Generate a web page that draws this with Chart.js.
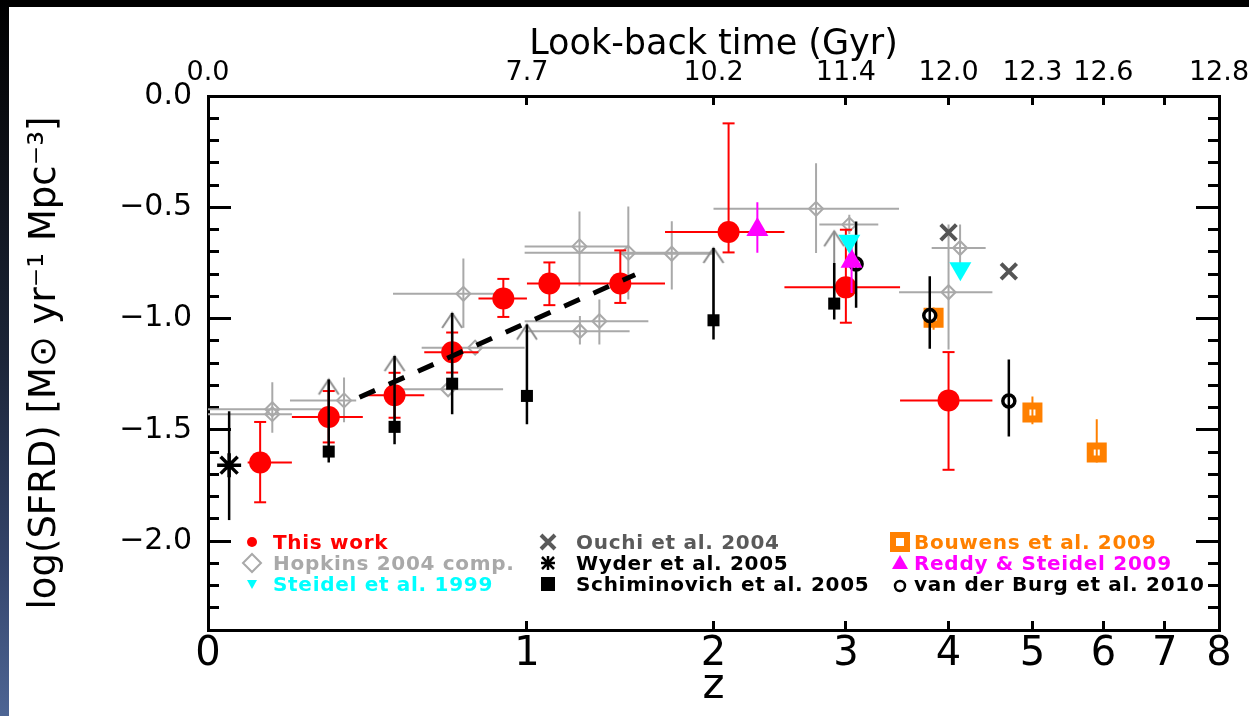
<!DOCTYPE html>
<html><head><meta charset="utf-8">
<script src="https://cdn.jsdelivr.net/npm/chart.js@4.4.1/dist/chart.umd.min.js"></script>
<style>
html,body{margin:0;padding:0;background:#000;width:1249px;height:716px;overflow:hidden;}
#strip{position:absolute;left:0;top:0;width:9px;height:716px;background:linear-gradient(to bottom,#000 0%,#0d1017 22%,#1c2538 50%,#33446a 78%,#4d6594 100%);}
#wrap{position:absolute;left:9px;top:7px;width:1240px;height:709px;background:#fff;}
canvas{display:block;}
</style></head><body>
<div id="strip"></div>
<div id="wrap"><canvas id="c" width="1240" height="709"></canvas></div>
<script>
// ---------- axis definitions ----------
const zTicks = [0, 1, 2, 3, 4, 5, 6, 7, 8];
const zTickLabels = ['0', '1', '2', '3', '4', '5', '6', '7', '8'];
const lookbackLabels = ['0.0', '7.7', '10.2', '11.4', '12.0', '12.3', '12.6', '', '12.8'];
const yMajorTicks = [0, -0.5, -1.0, -1.5, -2.0];
const yTickLabels = ['0.0', '\u22120.5', '\u22121.0', '\u22121.5', '\u22122.0'];
const yMinorTicks = [-0.1, -0.2, -0.3, -0.4, -0.6, -0.7, -0.8, -0.9, -1.1, -1.2, -1.3, -1.4, -1.6, -1.7, -1.8, -1.9, -2.1, -2.2, -2.3];

// ---------- data ----------
// This work
const twZ   = [0.12, 0.3, 0.5, 0.7, 0.9, 1.1, 1.45, 2.1, 3.0, 4.0];
const twY   = [-1.647, -1.443, -1.345, -1.152, -0.910, -0.843, -0.843, -0.611, -0.860, -1.368];
const twYhi = [-1.465, -1.326, -1.244, -1.063, -0.822, -0.748, -0.694, -0.123, -0.601, -1.151];
const twYlo = [-1.826, -1.557, -1.446, -1.243, -0.993, -0.940, -0.930, -0.703, -1.019, -1.680];
const twZlo = [0.09, 0.2, 0.4, 0.6, 0.8, 1.0, 1.2, 1.7, 2.5, 3.5];
const twZhi = [0.2, 0.4, 0.6, 0.8, 1.0, 1.2, 1.7, 2.5, 3.5, 4.5];

// Hopkins 2004 compilation
const hoZ   = [0.15, 0.15, 0.344, 0.685, 0.742, 0.787, 1.242, 1.493, 1.74, 1.244, 1.341, 2.749, 3.03, 4.127, 4.0];
const hoY   = [-1.408, -1.43, -1.368, -1.318, -0.889, -1.131, -0.676, -0.705, -0.709, -1.057, -1.012, -0.507, -0.578, -0.683, -0.882];
const hoYhi = [-1.287, null, -1.265, null, -0.730, null, -0.519, -0.497, -0.563, -0.989, -0.915, -0.302, -0.534, -0.578, -0.578];
const hoYlo = [-1.514, null, -1.466, null, -1.042, null, -0.855, -0.915, -0.870, -1.117, -1.117, -0.706, -0.620, -0.770, -1.139];
const hoZlo = [0.0, 0.0, 0.195, 0.507, 0.495, 0.591, 0.99, 0.99, 1.45, 0.99, 0.99, 2.0, 2.776, 3.82, 3.49];
const hoZhi = [0.28, 0.2, 0.38, 0.899, 0.899, 0.99, 1.493, 2.0, 2.0, 1.5, 1.604, 3.49, 3.292, 4.42, 4.5];

// Hopkins lower limits (arrows)
const limZ   = [0.3, 0.5, 0.7, 1.0, 2.0, 2.9];
const limY   = [-1.598, -1.487, -1.293, -1.348, -1.008, -0.933];
const limTip = [-1.274, -1.169, -0.975, -1.027, -0.683, -0.608];

// Schiminovich et al. 2005
const scZ   = [0.3, 0.5, 0.7, 1.0, 2.0, 2.9];
const scY   = [-1.598, -1.487, -1.293, -1.348, -1.008, -0.933];
const scYhi = [-1.274, -1.169, -0.975, -1.027, -0.683, -0.750];
const scYlo = [-1.647, -1.565, -1.430, -1.475, -1.094, -1.004];

// Wyder et al. 2005
const wyZ = [0.047], wyY = [-1.659], wyYhi = [-1.417], wyYlo = [-1.906];

// Ouchi et al. 2004
const ouZ = [4.0, 4.7], ouY = [-0.613, -0.788];

// Steidel et al. 1999
const stZ = [3.03, 4.13], stY = [-0.652, -0.776];

// Reddy & Steidel 2009
const reZ = [2.3, 3.05], reY = [-0.601, -0.743], reYhi = [-0.478, -0.676], reYlo = [-0.705, -0.885];

// van der Burg et al. 2010
const vdZ = [3.09, 3.8, 4.7], vdY = [-0.755, -0.987, -1.371];
const vdYhi = [-0.564, -0.810, -1.184], vdYlo = [-0.952, -1.136, -1.530];

// Bouwens et al. 2009
const boZ = [3.84, 5.0, 5.9], boY = [-0.997, -1.423, -1.602];
const boYhi = [-0.95, -1.351, -1.453], boYlo = [-1.05, -1.475, -1.647];

// dashed fit
const fitZ = [0.39, 1.53], fitY = [-1.354, -0.803];

// legend
const legendLabels = ['This work', 'Hopkins 2004 comp.', 'Steidel et al. 1999',
  'Ouchi et al. 2004', 'Wyder et al. 2005', 'Schiminovich et al. 2005',
  'Bouwens et al. 2009', 'Reddy & Steidel 2009', 'van der Burg et al. 2010'];

// ---------- styling ----------
const F = "'DejaVu Sans', sans-serif";
const RED = '#ff0000', GREY = '#a9a9a9', CYAN = '#00ffff', DGREY = '#555555', ORANGE = '#ff8000', MAG = '#ff00ff';
const legendColors = [RED, GREY, CYAN, '#5a5a5a', '#000', '#000', ORANGE, MAG, '#000'];
const legendMarks = ['dot', 'diamond', 'tridown', 'xmark', 'star', 'square', 'bsq', 'triup', 'ring'];
const LEG = { markX: [243, 539, 891], textX: [264, 567, 905], baseY: [542, 563, 584] };

const X = z => Math.log10(1 + z);
function pts(z, y) { return z.map((zz, i) => ({ x: X(zz), y: y[i] })); }
function vSegs(z, lo, hi) {
  const d = [];
  z.forEach((zz, i) => {
    if (lo[i] == null || hi[i] == null) return;
    d.push({ x: X(zz), y: lo[i] }, { x: X(zz), y: hi[i] }, { x: X(zz), y: null });
  });
  return d;
}
function hSegs(zlo, zhi, y) {
  const d = [];
  y.forEach((yy, i) => {
    if (zlo[i] == null || zhi[i] == null) return;
    d.push({ x: X(zlo[i]), y: yy }, { x: X(zhi[i]), y: yy }, { x: X(zhi[i]), y: null });
  });
  return d;
}
function errSet(data, color, width, order, cap) {
  return {
    data, showLine: true, borderColor: color, borderWidth: width, spanGaps: false, order,
    borderCapStyle: 'butt', pointStyle: 'line', pointBorderColor: color, pointBorderWidth: width,
    pointBackgroundColor: color,
    pointRadius: cap ? (c => (c.raw && c.raw.y !== null) ? cap : 0) : 0,
    pointHoverRadius: 0
  };
}
function markSet(data, order, o) {
  return Object.assign({ data, showLine: false, order, pointHoverRadius: 0 }, o);
}
function chevron(color) {
  const c = document.createElement('canvas');
  c.width = 24; c.height = 34;
  const g = c.getContext('2d');
  g.strokeStyle = color; g.lineWidth = 2;
  g.beginPath(); g.moveTo(2, 32); g.lineTo(12, 17); g.lineTo(22, 32); g.stroke();
  return c;
}
const chev = chevron('#8c8c8c');

const datasets = [
  // Hopkins
  errSet(vSegs(hoZ, hoYlo, hoYhi), GREY, 2, 100, 0),
  errSet(hSegs(hoZlo, hoZhi, hoY), GREY, 2, 100, 0),
  markSet(pts(hoZ, hoY), 95, { pointStyle: 'rectRot', pointRadius: 7, pointBorderWidth: 2, pointBorderColor: GREY, pointBackgroundColor: 'rgba(0,0,0,0)' }),
  // lower-limit arrows
  errSet(vSegs(limZ, limY, limTip), '#8c8c8c', 2, 92, 0),
  markSet(pts(limZ, limTip), 91, { pointStyle: chev, pointRadius: 10 }),
  // This work
  errSet(hSegs(twZlo, twZhi, twY), RED, 2, 80, 0),
  errSet(vSegs(twZ, twYlo, twYhi), RED, 2, 80, 6),
  markSet(pts(twZ, twY), 75, { pointStyle: 'circle', pointRadius: 11, pointBorderWidth: 0, pointBackgroundColor: RED, pointBorderColor: RED }),
  // Schiminovich + Wyder
  errSet(vSegs(scZ, scYlo, scYhi), '#000', 2.5, 70, 0),
  errSet(vSegs(wyZ, wyYlo, wyYhi), '#000', 2.5, 70, 0),
  markSet(pts(scZ, scY), 65, { pointStyle: 'rect', pointRadius: 8.5, pointBorderWidth: 0, pointBackgroundColor: '#000', pointBorderColor: '#000' }),
  markSet(pts(wyZ, wyY), 64, { pointStyle: 'star', pointRadius: 12, pointBorderWidth: 3.5, pointBorderColor: '#000', pointBackgroundColor: '#000' }),
  // Bouwens
  markSet(pts(boZ, boY), 60, { pointStyle: 'rect', pointRadius: 9.2, pointBorderWidth: 7, pointBorderColor: ORANGE, pointBackgroundColor: '#fff' }),
  errSet(vSegs(boZ, boYlo, boYhi), ORANGE, 2, 58, 0),
  // van der Burg
  markSet(pts(vdZ, vdY), 55, { pointStyle: 'circle', pointRadius: 6, pointBorderWidth: 3.5, pointBorderColor: '#000', pointBackgroundColor: '#fff' }),
  errSet(vSegs(vdZ, vdYlo, vdYhi), '#000', 2.5, 53, 0),
  // Reddy & Steidel
  errSet(vSegs(reZ, reYlo, reYhi), MAG, 2, 50, 0),
  markSet(pts(reZ, reY), 48, { pointStyle: 'triangle', pointRadius: 12.7, pointBorderWidth: 0, pointBackgroundColor: MAG, pointBorderColor: MAG }),
  // Steidel
  markSet(pts(stZ, stY), 45, { pointStyle: 'triangle', pointRotation: 180, pointRadius: 12.7, pointBorderWidth: 0, pointBackgroundColor: CYAN, pointBorderColor: CYAN }),
  // Ouchi
  markSet(pts(ouZ, ouY), 44, { pointStyle: 'crossRot', pointRadius: 11, pointBorderWidth: 4, pointBorderColor: DGREY, pointBackgroundColor: DGREY }),
  // dashed fit
  { data: pts(fitZ, fitY), showLine: true, borderColor: '#000', borderWidth: 5, borderDash: [17, 15], borderCapStyle: 'butt', pointRadius: 0, pointHoverRadius: 0, order: 40 }
];

function drawMark(g, m, x, y, col) {
  g.save();
  g.fillStyle = col; g.strokeStyle = col; g.lineCap = 'butt';
  g.beginPath();
  if (m === 'dot') { g.arc(x, y, 5, 0, Math.PI * 2); g.fill(); }
  else if (m === 'diamond') { g.lineWidth = 2; g.moveTo(x, y - 9); g.lineTo(x + 9, y); g.lineTo(x, y + 9); g.lineTo(x - 9, y); g.closePath(); g.stroke(); }
  else if (m === 'tridown') { g.moveTo(x - 5, y - 4); g.lineTo(x + 5, y - 4); g.lineTo(x, y + 5); g.closePath(); g.fill(); }
  else if (m === 'triup') { g.moveTo(x - 8, y + 6); g.lineTo(x + 8, y + 6); g.lineTo(x, y - 8); g.closePath(); g.fill(); }
  else if (m === 'xmark') { g.lineWidth = 4; g.moveTo(x - 7, y - 7); g.lineTo(x + 7, y + 7); g.moveTo(x + 7, y - 7); g.lineTo(x - 7, y + 7); g.stroke(); }
  else if (m === 'star') { g.lineWidth = 2.5; g.moveTo(x - 6, y - 6); g.lineTo(x + 6, y + 6); g.moveTo(x + 6, y - 6); g.lineTo(x - 6, y + 6); g.moveTo(x, y - 7); g.lineTo(x, y + 7); g.moveTo(x - 7, y); g.lineTo(x + 7, y); g.stroke(); }
  else if (m === 'square') { g.fillRect(x - 7, y - 7, 14, 14); }
  else if (m === 'bsq') { g.fillRect(x - 10, y - 10, 20, 20); g.fillStyle = '#fff'; g.fillRect(x - 4, y - 4, 8, 8); }
  else if (m === 'ring') { g.lineWidth = 2.5; g.arc(x, y + 2, 5, 0, Math.PI * 2); g.stroke(); }
  g.restore();
}

const legendPlugin = {
  id: 'sfrdLegend',
  afterDraw(chart) {
    const g = chart.ctx;
    g.save();
    g.font = 'bold 20px ' + F;
    if ('letterSpacing' in g) g.letterSpacing = '0.7px';
    g.textAlign = 'left'; g.textBaseline = 'alphabetic';
    legendLabels.forEach((t, i) => {
      const col = Math.floor(i / 3), row = i % 3;
      const by = LEG.baseY[row];
      drawMark(g, legendMarks[i], LEG.markX[col], by - 7, legendColors[i]);
      g.fillStyle = legendColors[i];
      g.fillText(t, LEG.textX[col], by);
    });
    g.restore();
  }
};

const xMax = X(zTicks[zTicks.length - 1]);
const tickGrid = len => ({ display: true, drawOnChartArea: false, drawTicks: true, tickLength: len, tickWidth: 3, tickColor: '#000' });
const axisBorder = { display: true, width: 3, color: '#000' };
const fitH = h => s => { s.height = h; s.paddingLeft = 0; s.paddingRight = 0; };

new Chart(document.getElementById('c'), {
  type: 'scatter',
  data: { datasets },
  plugins: [legendPlugin],
  options: {
    responsive: false, maintainAspectRatio: false, animation: false, devicePixelRatio: 1, events: [],
    layout: { padding: 0 },
    plugins: { legend: { display: false }, tooltip: { enabled: false }, colors: { enabled: false } },
    scales: {
      x: {
        type: 'linear', position: 'bottom', min: 0, max: xMax, weight: 1,
        afterBuildTicks: s => { s.ticks = zTicks.map(z => ({ value: X(z) })); },
        afterFit: fitH(86),
        ticks: { autoSkip: false, maxRotation: 0, padding: 10, color: '#000', font: { family: F, size: 40 }, callback: (v, i) => zTickLabels[i] },
        grid: tickGrid(-9), border: axisBorder,
        title: { display: true, text: 'z', color: '#000', font: { family: F, size: 42 }, padding: { top: 0, bottom: 4 } }
      },
      x2: {
        type: 'linear', position: 'top', min: 0, max: xMax, weight: 1,
        afterBuildTicks: s => { s.ticks = zTicks.map(z => ({ value: X(z) })); },
        afterFit: fitH(89),
        ticks: { autoSkip: false, maxRotation: 0, padding: 16, color: '#000', font: { family: F, size: 27 }, callback: (v, i) => lookbackLabels[i] },
        grid: tickGrid(-9), border: axisBorder,
        title: { display: true, text: 'Look-back time (Gyr)', color: '#000', font: { family: F, size: 35 }, padding: { top: 17, bottom: 0 } }
      },
      y: {
        type: 'linear', position: 'left', min: -2.4, max: 0, weight: 1,
        afterBuildTicks: s => { s.ticks = yMajorTicks.map(v => ({ value: v })); },
        afterFit: s => { s.width = 199; },
        ticks: { autoSkip: false, padding: 39, color: '#000', font: { family: F, size: 30 }, callback: (v, i) => yTickLabels[i] },
        grid: tickGrid(-23), border: axisBorder,
        title: { display: true, text: 'log(SFRD) [M\u2299 yr\u207B\u00B9 Mpc\u207B\u00B3]', color: '#000', font: { family: F, size: 37 }, padding: { top: 14, bottom: 0 } }
      },
      yMinor: {
        type: 'linear', position: 'left', min: -2.4, max: 0, weight: 0,
        afterBuildTicks: s => { s.ticks = yMinorTicks.map(v => ({ value: v })); },
        afterFit: s => { s.width = 0; },
        ticks: { display: false }, grid: tickGrid(-11), border: { display: false }
      },
      y2: {
        type: 'linear', position: 'right', min: -2.4, max: 0, weight: 1,
        afterBuildTicks: s => { s.ticks = yMajorTicks.map(v => ({ value: v })); },
        afterFit: s => { s.width = 30; },
        ticks: { display: false }, grid: tickGrid(-23), border: axisBorder
      },
      y2Minor: {
        type: 'linear', position: 'right', min: -2.4, max: 0, weight: 0,
        afterBuildTicks: s => { s.ticks = yMinorTicks.map(v => ({ value: v })); },
        afterFit: s => { s.width = 0; },
        ticks: { display: false }, grid: tickGrid(-11), border: { display: false }
      }
    }
  }
});
</script></body></html>
